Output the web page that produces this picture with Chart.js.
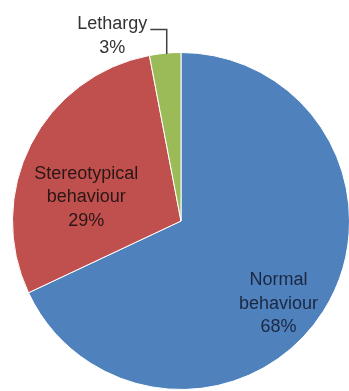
<!DOCTYPE html>
<html>
<head>
<meta charset="utf-8">
<script src="https://cdn.jsdelivr.net/npm/chart.js@4.4.1/dist/chart.umd.min.js"></script>
<style>
	html, body { margin: 0; padding: 0; background: #fff; overflow: hidden; }
	#wrap { position: absolute; left: 0; top: 0; width: 360px; height: 391px; }
</style>
</head>
<body>
<div id="wrap"><canvas id="pie" width="360" height="391"></canvas></div>
<script>
	// Data
	const categories = ['Normal behaviour', 'Stereotypical behaviour', 'Lethargy'];
	const shares = [68, 29, 3];
	const sliceColors = ['#4f81bd', '#c0504d', '#9bbb59'];

	// Label lines shown in each slice
	const labelLines = [
		['Normal', 'behaviour', '68%'],
		['Stereotypical', 'behaviour', '29%'],
		['Lethargy', '3%']
	];

	// Where each label sits: fraction of radius and angle shift (deg) from slice middle
	const labelPlace = [
		{ r: 0.76, shift: 8, color: '#1c2740' },
		{ r: 0.58, shift: -13, color: '#2a1616' },
		{ r: 1.17, shift: -15, color: '#333333' }
	];

	const pieLabels = {
		id: 'pieLabels',
		afterDatasetsDraw: function( chart ){
			const ctx = chart.ctx;
			const arcs = chart.getDatasetMeta(0).data;

			ctx.save();
			ctx.font = '18px "Liberation Sans", Arial, sans-serif';
			ctx.textAlign = 'center';
			ctx.textBaseline = 'middle';

			arcs.forEach( function( arc, i ){
				const place = labelPlace[i];
				const mid = (arc.startAngle + arc.endAngle) / 2 + place.shift * Math.PI / 180;
				const x = arc.x + Math.cos(mid) * arc.outerRadius * place.r;
				const y = arc.y + Math.sin(mid) * arc.outerRadius * place.r;
				const lines = labelLines[i];
				const step = 23.5;
				const top = y - (lines.length - 1) * step / 2;

				ctx.fillStyle = place.color;
				lines.forEach( function( line, k ){
					ctx.fillText(line, x, top + k * step);
				});

				// Leader line for the small outside label
				if( place.r > 1 ){
					const w = ctx.measureText(lines[0]).width;
					const edgeAngle = arc.startAngle + (arc.endAngle - arc.startAngle) * 0.55;
					const ex = arc.x + Math.cos(edgeAngle) * arc.outerRadius;
					const ey = arc.y + Math.sin(edgeAngle) * arc.outerRadius;
					ctx.strokeStyle = '#404040';
					ctx.lineWidth = 1.5;
					ctx.beginPath();
					ctx.moveTo(x + w / 2 + 3, top + 5);
					ctx.lineTo(ex, top + 5);
					ctx.lineTo(ex, ey + 1);
					ctx.stroke();
				}
			});
			ctx.restore();
		}
	};

	new Chart(document.getElementById('pie'), {
		type: 'pie',
		data: {
			labels: categories,
			datasets: [
				{
					data: shares,
					backgroundColor: sliceColors,
					borderColor: '#ffffff',
					borderWidth: 1
				}
			]
		},
		options: {
			responsive: false,
			animation: false,
			devicePixelRatio: 1,
			layout: {
				padding: { left: 12, top: 52, right: 10, bottom: 1 }
			},
			plugins: {
				legend: { display: false },
				tooltip: { enabled: false }
			}
		},
		plugins: [pieLabels]
	});
</script>
</body>
</html>
